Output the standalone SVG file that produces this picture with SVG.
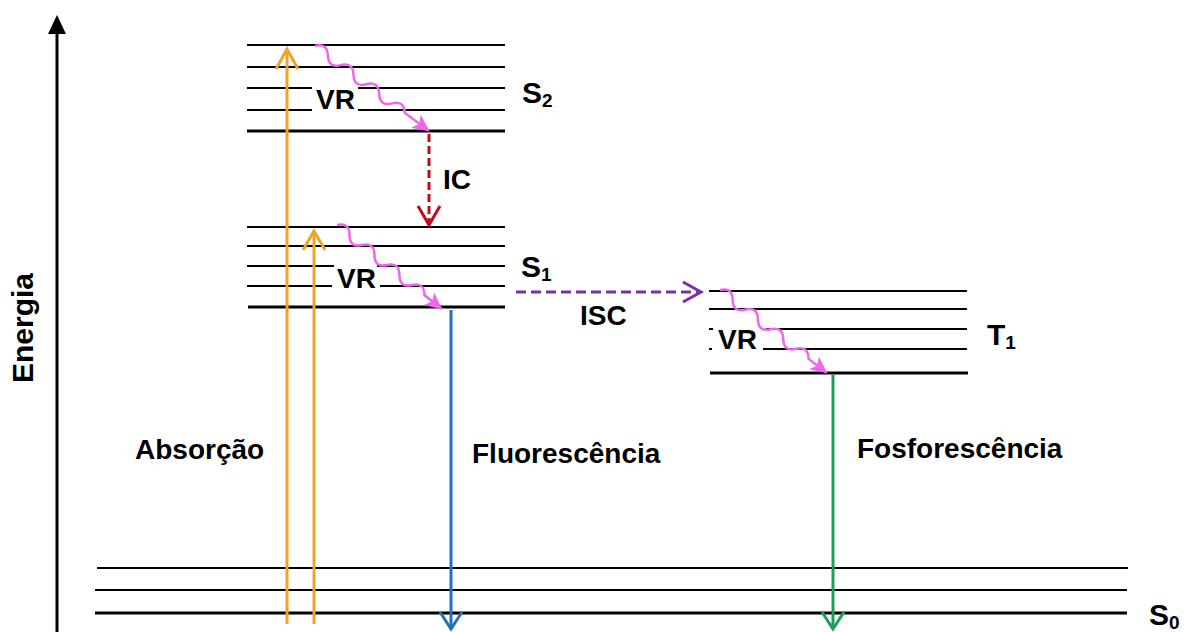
<svg xmlns="http://www.w3.org/2000/svg" width="1185" height="632" viewBox="0 0 1185 632">
  <defs>
    <style>
      .lvl { stroke: #000; stroke-width: 2; fill: none; }
      .lvl-b { stroke: #000; stroke-width: 3; fill: none; }
      .lbl { font-family: "Liberation Sans", Arial, sans-serif; font-weight: bold; font-size: 28px; fill: #000; }
      .st { font-size: 30px; }
      .sub { font-size: 19px; }
      .wave { stroke: #EE66EE; stroke-width: 2.5; fill: none; }
    </style>
    <marker id="tri-pink" markerWidth="18" markerHeight="16" refX="16" refY="8" orient="auto" markerUnits="userSpaceOnUse">
      <path d="M0,0 L17,8 L0,16 L4,8 Z" fill="#EE66EE"/>
    </marker>
  </defs>

  <rect width="1185" height="632" fill="#fff"/>

  <!-- energy axis -->
  <g id="axis">
    <line x1="57" y1="632" x2="57" y2="30" stroke="#000" stroke-width="3"/>
    <polygon points="57,15 48,34 66,34" fill="#000"/>
    <text class="lbl" transform="translate(33,328) rotate(-90)" text-anchor="middle" style="font-size:30px">Energia</text>
  </g>

  <!-- S2 manifold -->
  <g id="S2">
    <line class="lvl" x1="247" y1="45" x2="505" y2="45"/>
    <line class="lvl" x1="247" y1="67" x2="505" y2="67"/>
    <line class="lvl" x1="247" y1="88" x2="312" y2="88"/>
    <line class="lvl" x1="358" y1="88" x2="505" y2="88"/>
    <line class="lvl" x1="247" y1="110" x2="312" y2="110"/>
    <line class="lvl" x1="358" y1="110" x2="505" y2="110"/>
    <line class="lvl-b" x1="247" y1="131" x2="505" y2="131"/>
    <text class="lbl" x="316" y="109">VR</text>
    <text class="lbl st" x="522" y="103">S<tspan class="sub" dy="4">2</tspan></text>
  </g>

  <!-- S1 manifold -->
  <g id="S1">
    <line class="lvl" x1="247" y1="227" x2="505" y2="227"/>
    <line class="lvl" x1="247" y1="246" x2="505" y2="246"/>
    <line class="lvl" x1="247" y1="266" x2="334" y2="266"/>
    <line class="lvl" x1="377" y1="266" x2="505" y2="266"/>
    <line class="lvl" x1="247" y1="286" x2="332" y2="286"/>
    <line class="lvl" x1="380" y1="286" x2="505" y2="286"/>
    <line class="lvl-b" x1="248" y1="307" x2="505" y2="307"/>
    <text class="lbl" x="337" y="288">VR</text>
    <text class="lbl st" x="521" y="277">S<tspan class="sub" dy="4">1</tspan></text>
  </g>

  <!-- T1 manifold -->
  <g id="T1">
    <line class="lvl" x1="709" y1="291" x2="967" y2="291"/>
    <line class="lvl" x1="709" y1="309" x2="967" y2="309"/>
    <line class="lvl" x1="709" y1="329" x2="713" y2="329"/>
    <line class="lvl" x1="766" y1="329" x2="967" y2="329"/>
    <line class="lvl" x1="709" y1="349" x2="712" y2="349"/>
    <line class="lvl" x1="763" y1="349" x2="967" y2="349"/>
    <line class="lvl-b" x1="710" y1="373" x2="968" y2="373"/>
    <text class="lbl" x="718" y="349">VR</text>
    <text class="lbl st" x="987" y="345">T<tspan class="sub" dy="4">1</tspan></text>
  </g>

  <!-- S0 ground state -->
  <g id="S0">
    <line class="lvl" x1="97" y1="568" x2="1128" y2="568"/>
    <line class="lvl" x1="95" y1="590" x2="1127" y2="590"/>
    <line class="lvl-b" x1="95" y1="613" x2="1127" y2="613"/>
    <text class="lbl st" x="1149" y="625">S<tspan class="sub" dy="4">0</tspan></text>
  </g>

  <!-- process labels -->
  <g id="labels">
    <text class="lbl" x="135" y="459">Absorção</text>
    <text class="lbl" x="472" y="463">Fluorescência</text>
    <text class="lbl" x="857" y="458">Fosforescência</text>
    <text class="lbl" x="443" y="189">IC</text>
    <text class="lbl" x="580" y="325">ISC</text>
  </g>

  <!-- transitions -->
  <g id="connectors" fill="none" stroke-linecap="butt">
    <!-- absorption -->
    <g stroke="#F2A228" stroke-width="3">
      <line x1="287" y1="624" x2="287" y2="49"/>
      <polyline points="276,69 287,49 298,69"/>
      <line x1="314" y1="624" x2="314" y2="231"/>
      <polyline points="303,250 314,231 325,250"/>
    </g>
    <!-- fluorescence -->
    <g stroke="#2273B9" stroke-width="3">
      <line x1="451" y1="310" x2="451" y2="629"/>
      <polyline points="440,612 451,629 462,612"/>
    </g>
    <!-- phosphorescence -->
    <g stroke="#1F9E58" stroke-width="3">
      <line x1="833" y1="375" x2="833" y2="629"/>
      <polyline points="822,612 833,629 844,612"/>
    </g>
    <!-- internal conversion -->
    <g stroke="#B8101C" stroke-width="3">
      <line x1="429" y1="134" x2="429" y2="224" stroke-dasharray="8 4"/>
      <polyline points="418,206 429,225 440,206"/>
    </g>
    <!-- intersystem crossing -->
    <g stroke="#7B30A8" stroke-width="3">
      <line x1="516" y1="292" x2="700" y2="292" stroke-dasharray="10 5"/>
      <polyline points="683,282 701,292 683,302"/>
    </g>
    <!-- vibrational relaxation -->
    <path class="wave" marker-end="url(#tri-pink)" transform="translate(315,46) rotate(36.7)"
          d="M0,0 q8,-10 16,0 t16,0 t16,0 t16,0 t16,0 t16,0 t16,0 L142,0"/>
    <path class="wave" marker-end="url(#tri-pink)" transform="translate(337,225) rotate(38.7)"
          d="M0,0 q8,-10 16,0 t16,0 t16,0 t16,0 t16,0 t16,0 t16,0 L134,0"/>
    <path class="wave" marker-end="url(#tri-pink)" transform="translate(720,290) rotate(37.8)"
          d="M0,0 q8,-10 16,0 t16,0 t16,0 t16,0 t16,0 t16,0 t16,0 L135,0"/>
  </g>
</svg>
